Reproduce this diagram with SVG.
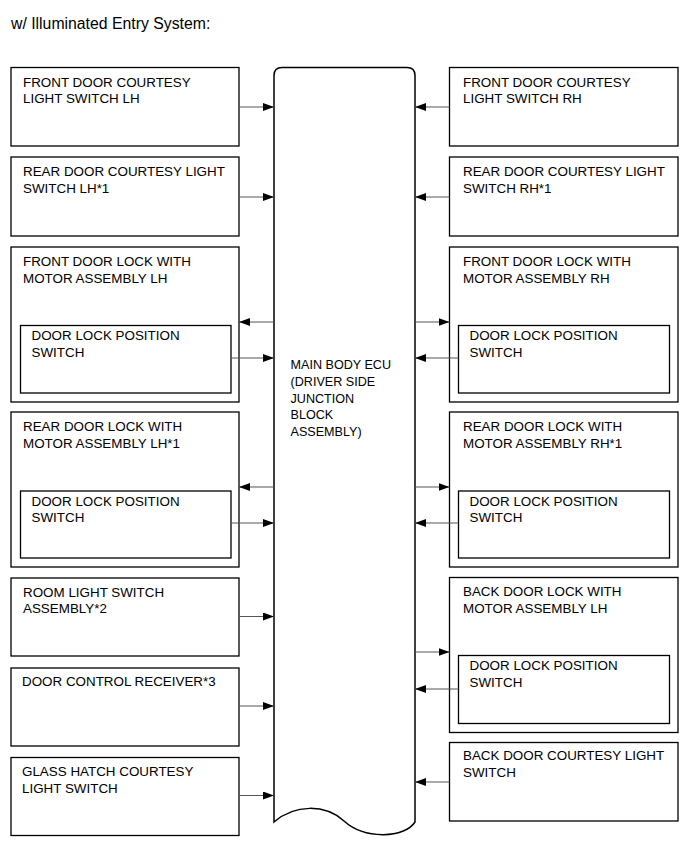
<svg xmlns="http://www.w3.org/2000/svg" width="689" height="853" viewBox="0 0 689 853">
<style>
text{font-family:"Liberation Sans",Arial,sans-serif;font-size:13.4px;fill:#000}
.title{font-size:15.8px}
.ecut{font-size:12.6px}
.box{fill:#fff;stroke:#000;stroke-width:1.3}
.ecu{fill:#fff;stroke:#000;stroke-width:1.5}
.ln{stroke:#555;stroke-width:1;fill:none;marker-end:url(#ah)}
</style>
<defs>
<marker id="ah" markerUnits="userSpaceOnUse" markerWidth="11" markerHeight="8" refX="11" refY="4" orient="auto">
<path d="M0,0 L11,4 L0,8 z" fill="#000"/>
</marker>
</defs>
<text class="title" x="11" y="29">w/ Illuminated Entry System:</text>

<g id="ecu">
<path class="ecu" d="M274,822 V75.5 Q274,67.5 282,67.5 H407 Q415,67.5 415,75.5 V822 C405,838 365,840 344,821 C325,804 295,804 274,822 Z"/>
<text class="ecut" x="290.5" y="369">MAIN BODY ECU</text>
<text class="ecut" x="290.5" y="385.8">(DRIVER SIDE</text>
<text class="ecut" x="290.5" y="402.5">JUNCTION</text>
<text class="ecut" x="290.5" y="419.2">BLOCK</text>
<text class="ecut" x="290.5" y="436">ASSEMBLY)</text>
</g>

<g id="l1"><rect class="box" x="11" y="67.5" width="228" height="78.5"/>
<text x="23" y="86.5">FRONT DOOR COURTESY</text><text x="23" y="103">LIGHT SWITCH LH</text></g>
<g id="l2"><rect class="box" x="11" y="157" width="228" height="79"/>
<text x="23" y="176">REAR DOOR COURTESY LIGHT</text><text x="23" y="192.5">SWITCH LH*1</text></g>
<g id="l3"><rect class="box" x="11" y="247" width="228" height="155"/>
<text x="23" y="266">FRONT DOOR LOCK WITH</text><text x="23" y="282.5">MOTOR ASSEMBLY LH</text>
<g id="l3s"><rect class="box" x="20.5" y="325.5" width="210.5" height="67.5"/>
<text x="31.5" y="340">DOOR LOCK POSITION</text><text x="31.5" y="356.5">SWITCH</text></g></g>
<g id="l4"><rect class="box" x="11" y="412" width="228" height="155"/>
<text x="23" y="431">REAR DOOR LOCK WITH</text><text x="23" y="447.5">MOTOR ASSEMBLY LH*1</text>
<g id="l4s"><rect class="box" x="20.5" y="491" width="210.5" height="67"/>
<text x="31.5" y="505.5">DOOR LOCK POSITION</text><text x="31.5" y="522">SWITCH</text></g></g>
<g id="l5"><rect class="box" x="11" y="578" width="228" height="78"/>
<text x="23" y="596.5">ROOM LIGHT SWITCH</text><text x="23" y="613">ASSEMBLY*2</text></g>
<g id="l6"><rect class="box" x="11" y="668" width="228" height="78"/>
<text x="22" y="686">DOOR CONTROL RECEIVER*3</text></g>
<g id="l7"><rect class="box" x="11" y="757.5" width="228" height="78"/>
<text x="22" y="776">GLASS HATCH COURTESY</text><text x="22" y="792.5">LIGHT SWITCH</text></g>

<g id="r1"><rect class="box" x="449.5" y="67.5" width="228.5" height="78.5"/>
<text x="463" y="86.5">FRONT DOOR COURTESY</text><text x="463" y="103">LIGHT SWITCH RH</text></g>
<g id="r2"><rect class="box" x="449.5" y="157" width="228.5" height="79"/>
<text x="463" y="176">REAR DOOR COURTESY LIGHT</text><text x="463" y="192.5">SWITCH RH*1</text></g>
<g id="r3"><rect class="box" x="449.5" y="247" width="228.5" height="155"/>
<text x="463" y="266">FRONT DOOR LOCK WITH</text><text x="463" y="282.5">MOTOR ASSEMBLY RH</text>
<g id="r3s"><rect class="box" x="458.5" y="325.5" width="211" height="67.5"/>
<text x="469.5" y="340">DOOR LOCK POSITION</text><text x="469.5" y="356.5">SWITCH</text></g></g>
<g id="r4"><rect class="box" x="449.5" y="412" width="228.5" height="155"/>
<text x="463" y="431">REAR DOOR LOCK WITH</text><text x="463" y="447.5">MOTOR ASSEMBLY RH*1</text>
<g id="r4s"><rect class="box" x="458.5" y="491" width="211" height="67"/>
<text x="469.5" y="505.5">DOOR LOCK POSITION</text><text x="469.5" y="522">SWITCH</text></g></g>
<g id="r5"><rect class="box" x="449.5" y="577.5" width="228.5" height="155"/>
<text x="463" y="596">BACK DOOR LOCK WITH</text><text x="463" y="612.5">MOTOR ASSEMBLY LH</text>
<g id="r5s"><rect class="box" x="458.5" y="655.5" width="211" height="68"/>
<text x="469.5" y="670">DOOR LOCK POSITION</text><text x="469.5" y="686.5">SWITCH</text></g></g>
<g id="r6"><rect class="box" x="449.5" y="742.5" width="228.5" height="78.5"/>
<text x="463" y="760">BACK DOOR COURTESY LIGHT</text><text x="463" y="776.5">SWITCH</text></g>

<g id="connectors">
<line class="ln" x1="239" y1="107" x2="274" y2="107"/>
<line class="ln" x1="239" y1="197" x2="274" y2="197"/>
<line class="ln" x1="274" y1="322" x2="239" y2="322"/>
<line class="ln" x1="231" y1="358" x2="274" y2="358"/>
<line class="ln" x1="274" y1="487" x2="239" y2="487"/>
<line class="ln" x1="231" y1="523" x2="274" y2="523"/>
<line class="ln" x1="239" y1="616.5" x2="274" y2="616.5"/>
<line class="ln" x1="239" y1="706" x2="274" y2="706"/>
<line class="ln" x1="239" y1="795.5" x2="274" y2="795.5"/>
<line class="ln" x1="449.5" y1="107" x2="415" y2="107"/>
<line class="ln" x1="449.5" y1="197" x2="415" y2="197"/>
<line class="ln" x1="415" y1="322" x2="449.5" y2="322"/>
<line class="ln" x1="458.5" y1="358" x2="415" y2="358"/>
<line class="ln" x1="415" y1="487" x2="449.5" y2="487"/>
<line class="ln" x1="458.5" y1="523" x2="415" y2="523"/>
<line class="ln" x1="415" y1="652" x2="449.5" y2="652"/>
<line class="ln" x1="458.5" y1="689" x2="415" y2="689"/>
<line class="ln" x1="449.5" y1="782" x2="415" y2="782"/>
</g>
</svg>
